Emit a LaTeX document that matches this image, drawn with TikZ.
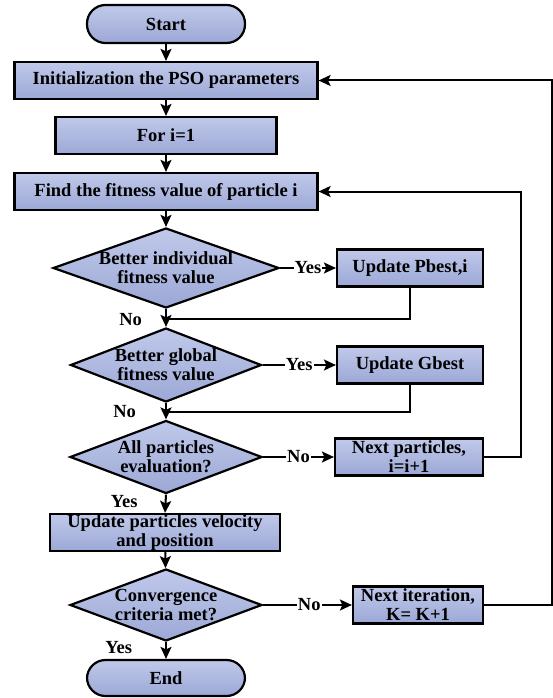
\documentclass[tikz,border=0pt]{standalone}
\usepackage{fontspec}
\setmainfont{Liberation Serif}
\usetikzlibrary{shapes.geometric,arrows.meta}

\definecolor{fillTop}{RGB}{192,201,234}
\definecolor{fillBot}{RGB}{156,168,214}

% a line of text that takes no width, so a diamond keeps its given size
\newcommand\zeroline[1]{\makebox[0pt]{#1}}

\begin{document}
\begin{tikzpicture}[x=1pt,y=-1pt,
  every node/.style={font=\fontsize{18.5}{19}\selectfont\bfseries},
  shaded/.style={top color=fillTop,bottom color=fillBot},
  box/.style={draw,line width=2.2pt,shaded,minimum height=37pt,inner sep=0pt,align=center},
  term/.style={box,rounded corners=18.5pt,minimum width=158pt,minimum height=38pt},
  dec/.style={draw,line width=2.2pt,shaded,diamond,inner sep=0pt,align=center},
  flow/.style={line width=2pt,-{Stealth[length=12pt,width=11pt,inset=2.5pt]}},
  link/.style={line width=2pt},
  tag/.style={fill=white,inner sep=1pt},
  vtag/.style={inner sep=1pt},
]
\useasboundingbox (0,0) rectangle (553,698);

% main column
\node[term] (start) at (166,24) {Start};
\node[box,minimum width=303pt] (init) at (166,80.5) {Initialization the PSO parameters};
\node[box,minimum width=221pt] (fori) at (166,135.5) {For i=1};
\node[box,minimum width=303pt] (find) at (166,191.5) {Find the fitness value of particle i};
\node[dec,minimum width=226pt,minimum height=80pt] (d1) at (166,268)
  {\zeroline{Better individual}\\\zeroline{fitness value}};
\node[dec,minimum width=191pt,minimum height=74pt] (d2) at (166,365)
  {\zeroline{Better global}\\\zeroline{fitness value}};
\node[dec,minimum width=192pt,minimum height=73pt] (d3) at (166,457)
  {\zeroline{All particles}\\\zeroline{evaluation?}};
\node[box,minimum width=230pt] (upd) at (165,532.5) {Update particles velocity\\and position};
\node[dec,minimum width=192pt,minimum height=72pt] (d4) at (166,605)
  {\zeroline{Convergence}\\\zeroline{criteria met?}};
\node[term,minimum height=36pt] (stop) at (166,678) {End};

% side column
\node[box,minimum width=146pt] (pb) at (410,268) {Update Pbest,i};
\node[box,minimum width=146pt] (gb) at (410,365) {Update Gbest};
\node[box,minimum width=148pt] (np) at (409,457) {Next particles,\\i=i+1};
\node[box,minimum width=130pt] (ni) at (418,605) {Next iteration,\\K= K+1};

% merge points and loop corners
\coordinate (m1) at (166,319.3);
\coordinate (m2) at (166,411.7);
\coordinate (r1) at (521,457);
\coordinate (r2) at (551.5,605);

% main flow
\draw[flow] (start) -- (init);
\draw[flow] (init) -- (fori);
\draw[flow] (fori) -- (find);
\draw[flow] (find) -- (d1);
\draw[flow] (d1.south) -- node[vtag,pos=0.57,left=22pt] {No} (d2.north);
\draw[flow] (d2.south) -- node[vtag,pos=0.54,left=28pt] {No} (d3.north);
\draw[flow] (d3.south) -- node[vtag,pos=0.4,left=26pt] {Yes} (upd.north);
\draw[flow] (upd) -- (d4);
\draw[flow] (d4.south) -- node[vtag,pos=0.32,left=32pt] {Yes} (stop.north);

% branches
\draw[flow] (d1.east) -- node[tag] {Yes} (pb.west);
\draw[flow] (d2.east) -- node[tag] {Yes} (gb.west);
\draw[flow] (d3.east) -- node[tag] {No} (np.west);
\draw[flow] (d4.east) -- node[tag,pos=0.52] {No} (ni.west);
\draw[link] (pb.south) |- (m1);
\draw[link] (gb.south) |- (m2);

% loops back
\draw[flow] (np.east) -- (r1) |- (find.east);
\draw[flow] (ni.east) -- (r2) |- (init.east);
\end{tikzpicture}
\end{document}
